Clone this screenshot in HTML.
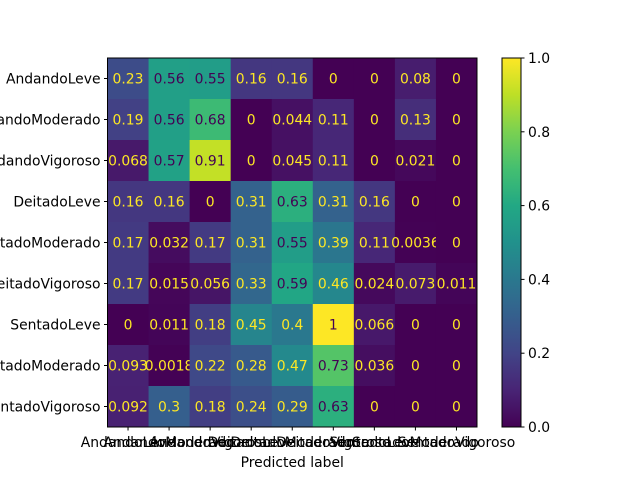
<!DOCTYPE html>
<html><head><meta charset="utf-8"><style>
html,body{margin:0;padding:0;background:#fff;}
svg text{font-family:"DejaVu Sans","Liberation Sans",sans-serif;}
</style></head><body>
<svg id="chart" width="640" height="480" xmlns="http://www.w3.org/2000/svg"></svg>
<script>
const labels = ["AndandoLeve","AndandoModerado","AndandoVigoroso","DeitadoLeve","DeitadoModerado","DeitadoVigoroso","SentadoLeve","SentadoModerado","SentadoVigoroso"];
const row0 = [0.23,0.56,0.55,0.16,0.16,0,0,0.08,0];
const row1 = [0.19,0.56,0.68,0,0.044,0.11,0,0.13,0];
const row2 = [0.068,0.57,0.91,0,0.045,0.11,0,0.021,0];
const row3 = [0.16,0.16,0,0.31,0.63,0.31,0.16,0,0];
const row4 = [0.17,0.032,0.17,0.31,0.55,0.39,0.11,0.0036,0];
const row5 = [0.17,0.015,0.056,0.33,0.59,0.46,0.024,0.073,0.011];
const row6 = [0,0.011,0.18,0.45,0.4,1,0.066,0,0];
const row7 = [0.093,0.0018,0.22,0.28,0.47,0.73,0.036,0,0];
const row8 = [0.092,0.3,0.18,0.24,0.29,0.63,0,0,0];
const matrix = [row0,row1,row2,row3,row4,row5,row6,row7,row8];
const cbTicks = [0.0,0.2,0.4,0.6,0.8,1.0];

const vir = [[68,1,84],[72,36,117],[65,68,135],[53,95,141],[42,120,142],[33,145,140],[34,168,132],[68,191,112],[122,209,81],[189,223,38],[253,231,37]];
function viridis(t){t=Math.max(0,Math.min(1,t));const p=t*10,i=Math.min(9,Math.floor(p)),f=p-i;
 const c=vir[i].map((v,k)=>Math.round(v+(vir[i+1][k]-v)*f));return `rgb(${c[0]},${c[1]},${c[2]})`;}
const svg=document.getElementById('chart');const NS="http://www.w3.org/2000/svg";
function el(tag,attrs,parent){const e=document.createElementNS(NS,tag);for(const k in attrs)e.setAttribute(k,attrs[k]);(parent||svg).appendChild(e);return e;}
const FS='13.9';
const L=107.5,T=58,W=369.5,H=369,n=labels.length,cw=W/n,ch=H/n;
const xc=j=>L+cw*(j+0.5), yc=i=>T+ch*(i+0.5);
for(let i=0;i<n;i++)for(let j=0;j<n;j++){
 const v=matrix[i][j];
 const r=el('rect',{x:L+cw*j,y:T+ch*i,width:cw+0.5,height:ch+0.5,fill:viridis(v)});
 
 
 const t=el('text',{x:xc(j),y:yc(i)+5,'text-anchor':'middle','font-size':FS,fill:v>=0.5?'#440154':'#fde725'});
 t.textContent=String(v);
 
 
}
el('rect',{x:L,y:T,width:W,height:H,fill:'none',stroke:'#000','stroke-width':1});
for(let i=0;i<n;i++){
 el('line',{x1:L-3.5,x2:L,y1:yc(i),y2:yc(i),stroke:'#000'});
 const t=el('text',{x:L-7,y:yc(i)+5,'text-anchor':'end','font-size':FS,fill:'#000'});t.textContent=labels[i];
 
 
 el('line',{x1:xc(i),x2:xc(i),y1:T+H,y2:T+H+3.5,stroke:'#000'});
 const u=el('text',{x:xc(i),y:T+H+20,'text-anchor':'middle','font-size':FS,fill:'#000'});u.textContent=labels[i];
 
 
}
const xt=el('text',{x:L+W/2,y:467,'text-anchor':'middle','font-size':FS,fill:'#000'});xt.textContent='Predicted label';


const CL=502,CW=19,CT=58,CH=369;
const defs=el('defs',{});const g=el('linearGradient',{id:'vg',x1:0,y1:1,x2:0,y2:0},defs);
for(let k=0;k<=20;k++)el('stop',{offset:k/20,'stop-color':viridis(k/20)},g);
const cb=el('rect',{x:CL,y:CT,width:CW,height:CH,fill:'url(#vg)',stroke:'#000','stroke-width':1});


cbTicks.forEach(v=>{const y=CT+CH*(1-v);
 el('line',{x1:CL+CW,x2:CL+CW+3.5,y1:y,y2:y,stroke:'#000'});
 const t=el('text',{x:CL+CW+7,y:y+5,'font-size':FS,fill:'#000'});t.textContent=v.toFixed(1);
 
 
});
</script>
</body></html>
